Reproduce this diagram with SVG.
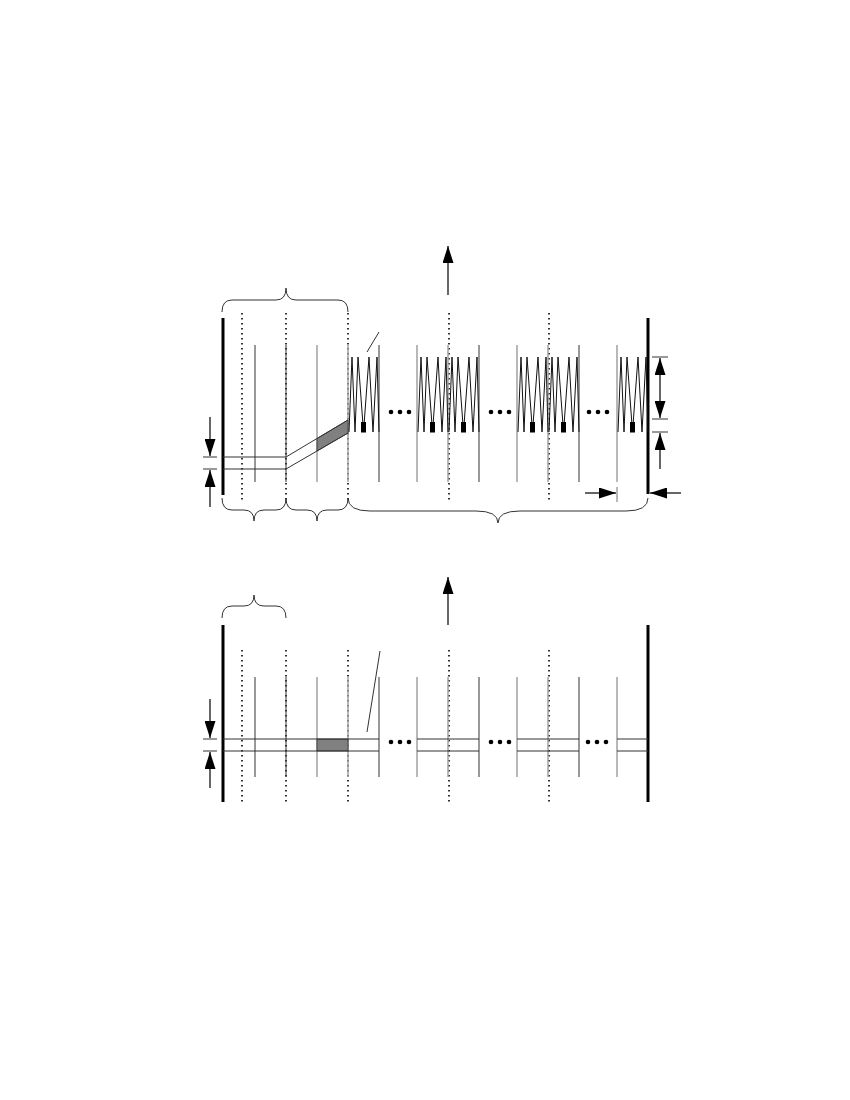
<svg xmlns="http://www.w3.org/2000/svg" width="850" height="1100" viewBox="0 0 850 1100">
<style>
.wall{stroke:#000;stroke-width:3;fill:none}
.dot{stroke:#000;stroke-width:1.6;stroke-dasharray:1.6 3.4;fill:none}
.dk{stroke:#333;stroke-width:1;fill:none}
.gr{stroke:#a0a0a0;stroke-width:1.5;fill:none}
.hz{stroke:#333;stroke-width:1;fill:none}
.zz{stroke:#111;stroke-width:1;fill:none}
.br{stroke:#333;stroke-width:1;fill:none}
.ar{stroke:#000;stroke-width:1.2;fill:none}
.tk{stroke:#333;stroke-width:1;fill:none}
.blk{fill:#000}
.shade{fill:#808080;stroke:#333;stroke-width:0.8}
</style>
<defs>
<marker id="ah" markerUnits="userSpaceOnUse" markerWidth="18" markerHeight="11" refX="17" refY="5.5" orient="auto">
<path d="M0,0 L17,5.5 L0,11 Z" fill="#000"/>
</marker>
<marker id="ahs" markerUnits="userSpaceOnUse" markerWidth="18" markerHeight="11" refX="1" refY="5.5" orient="auto">
<path d="M18,0 L1,5.5 L18,11 Z" fill="#000"/>
</marker>
</defs>

<g id="top-panel">
<g id="top-walls">
<line class="wall" x1="223" y1="318" x2="223" y2="495"/>
<line class="wall" x1="648" y1="318" x2="648" y2="494"/>
</g>
<g id="top-dotted">
<line class="dot" x1="242" y1="313" x2="242" y2="502"/>
<line class="dot" x1="286" y1="313" x2="286" y2="502"/>
<line class="dot" x1="348" y1="313" x2="348" y2="502"/>
<line class="dot" x1="449" y1="313" x2="449" y2="502"/>
<line class="dot" x1="549" y1="313" x2="549" y2="502"/>
</g>
<g id="top-verticals">
<line class="dk" x1="255" y1="345" x2="255" y2="482"/>
<line class="dk" x1="286" y1="345" x2="286" y2="482"/>
<line class="gr" x1="317" y1="345" x2="317" y2="482"/>
<line class="gr" x1="348" y1="345" x2="348" y2="482"/>
<line class="dk" x1="379" y1="345" x2="379" y2="482"/>
<line class="gr" x1="417" y1="345" x2="417" y2="482"/>
<line class="gr" x1="448" y1="345" x2="448" y2="482"/>
<line class="dk" x1="479" y1="345" x2="479" y2="482"/>
<line class="gr" x1="517" y1="345" x2="517" y2="482"/>
<line class="gr" x1="548" y1="345" x2="548" y2="482"/>
<line class="dk" x1="579" y1="345" x2="579" y2="482"/>
<line class="gr" x1="617" y1="345" x2="617" y2="482"/>
</g>
<g id="top-strand">
<polygon class="shade" points="317,438.5 348,420 348,433 317,451"/>
<polyline class="hz" points="223,457 286,457 348,420"/>
<polyline class="hz" points="223,469 286,469 348,433"/>
</g>
<g id="zigzags">
<polyline class="zz" points="349,432 352,357 355,432 358,357 363.5,432 369,357 373,432 377,357 379,432"/>
<polyline class="zz" points="418,432 421,357 424,432 427,357 432.5,432 438,357 442,432 446,357 448,432"/>
<polyline class="zz" points="449,432 452,357 455,432 458,357 463.5,432 469,357 473,432 477,357 479,432"/>
<polyline class="zz" points="518,432 521,357 524,432 527,357 532.5,432 538,357 542,432 546,357 548,432"/>
<polyline class="zz" points="549,432 552,357 555,432 558,357 563.5,432 569,357 573,432 577,357 579,432"/>
<polyline class="zz" points="618,432 621,357 624,432 627,357 632.5,432 638,357 642,432 646,357 648,432"/>
<rect class="blk" x="361" y="422" width="5" height="10.5"/>
<rect class="blk" x="430" y="422" width="5" height="10.5"/>
<rect class="blk" x="461" y="422" width="5" height="10.5"/>
<rect class="blk" x="530" y="422" width="5" height="10.5"/>
<rect class="blk" x="561" y="422" width="5" height="10.5"/>
<rect class="blk" x="630" y="422" width="5" height="10.5"/>
</g>
<g id="top-ellipsis">
<circle cx="391" cy="412" r="2.3"/><circle cx="400" cy="412" r="2.3"/><circle cx="409" cy="412" r="2.3"/>
<circle cx="491" cy="412" r="2.3"/><circle cx="500" cy="412" r="2.3"/><circle cx="509" cy="412" r="2.3"/>
<circle cx="589" cy="412" r="2.3"/><circle cx="598" cy="412" r="2.3"/><circle cx="607" cy="412" r="2.3"/>
</g>
<g id="top-pointer">
<line class="dk" x1="367" y1="352" x2="379" y2="332"/>
</g>
<g id="top-braces">
<path class="br" d="M222,312 Q222,300 232,300 L276,300 Q286,300 286,288 Q286,300 296,300 L338,300 Q348,300 348,312"/>
<path class="br" d="M222,498 Q222,510 232,510 L244,510 Q254,510 254,521 Q254,510 264,510 L276,510 Q286,510 286,498"/>
<path class="br" d="M286,498 Q286,510 296,510 L307,510 Q317,510 317,521 Q317,510 327,510 L338,510 Q348,510 348,498"/>
<path class="br" d="M348,498 Q348,511 370,511 L476,511 Q498,511 498,523 Q498,511 520,511 L626,511 Q648,511 648,498"/>
</g>
<g id="top-arrows">
<line class="ar" x1="448" y1="295" x2="448" y2="246" marker-end="url(#ah)"/>
<line class="ar" x1="210" y1="417" x2="210" y2="456" marker-end="url(#ah)"/>
<line class="ar" x1="210" y1="507" x2="210" y2="470" marker-end="url(#ah)"/>
<line class="tk" x1="203" y1="457" x2="217" y2="457"/>
<line class="tk" x1="203" y1="469" x2="217" y2="469"/>
<line class="ar" x1="660" y1="358" x2="660" y2="418" marker-start="url(#ahs)" marker-end="url(#ah)"/>
<line class="tk" x1="652" y1="357" x2="668" y2="357"/>
<line class="tk" x1="652" y1="419" x2="668" y2="419"/>
<line class="tk" x1="652" y1="432" x2="668" y2="432"/>
<line class="ar" x1="660" y1="469" x2="660" y2="433" marker-end="url(#ah)"/>
<line class="ar" x1="585" y1="493" x2="616" y2="493" marker-end="url(#ah)"/>
<line class="gr" x1="617" y1="487" x2="617" y2="502"/>
<line class="ar" x1="681" y1="493" x2="650" y2="493" marker-end="url(#ah)"/>
</g>
</g>

<g id="bottom-panel">
<g id="bottom-walls">
<line class="wall" x1="223" y1="625" x2="223" y2="802"/>
<line class="wall" x1="648" y1="625" x2="648" y2="802"/>
</g>
<g id="bottom-dotted">
<line class="dot" x1="242" y1="650" x2="242" y2="804"/>
<line class="dot" x1="286" y1="650" x2="286" y2="804"/>
<line class="dot" x1="348" y1="650" x2="348" y2="804"/>
<line class="dot" x1="449" y1="650" x2="449" y2="804"/>
<line class="dot" x1="549" y1="650" x2="549" y2="804"/>
</g>
<g id="bottom-verticals">
<line class="dk" x1="255" y1="677" x2="255" y2="777"/>
<line class="dk" x1="286" y1="677" x2="286" y2="777"/>
<line class="gr" x1="317" y1="677" x2="317" y2="777"/>
<line class="gr" x1="348" y1="677" x2="348" y2="777"/>
<line class="dk" x1="379" y1="677" x2="379" y2="777"/>
<line class="gr" x1="417" y1="677" x2="417" y2="777"/>
<line class="gr" x1="448" y1="677" x2="448" y2="777"/>
<line class="dk" x1="479" y1="677" x2="479" y2="777"/>
<line class="gr" x1="517" y1="677" x2="517" y2="777"/>
<line class="gr" x1="548" y1="677" x2="548" y2="777"/>
<line class="dk" x1="579" y1="677" x2="579" y2="777"/>
<line class="gr" x1="617" y1="677" x2="617" y2="777"/>
</g>
<g id="bottom-strands">
<rect class="shade" x="317" y="739" width="31" height="12"/>
<line class="hz" x1="223" y1="739" x2="379" y2="739"/>
<line class="hz" x1="223" y1="751" x2="379" y2="751"/>
<line class="hz" x1="417" y1="739" x2="479" y2="739"/>
<line class="hz" x1="417" y1="751" x2="479" y2="751"/>
<line class="hz" x1="517" y1="739" x2="579" y2="739"/>
<line class="hz" x1="517" y1="751" x2="579" y2="751"/>
<line class="hz" x1="617" y1="739" x2="648" y2="739"/>
<line class="hz" x1="617" y1="751" x2="648" y2="751"/>
</g>
<g id="bottom-ellipsis">
<circle cx="391" cy="742" r="2.3"/><circle cx="400" cy="742" r="2.3"/><circle cx="409" cy="742" r="2.3"/>
<circle cx="491" cy="742" r="2.3"/><circle cx="500" cy="742" r="2.3"/><circle cx="509" cy="742" r="2.3"/>
<circle cx="588" cy="742" r="2.3"/><circle cx="597" cy="742" r="2.3"/><circle cx="606" cy="742" r="2.3"/>
</g>
<g id="bottom-pointer">
<line class="dk" x1="367" y1="732" x2="380" y2="651"/>
</g>
<g id="bottom-braces">
<path class="br" d="M222,618 Q222,606 232,606 L244,606 Q254,606 254,595 Q254,606 264,606 L276,606 Q286,606 286,618"/>
</g>
<g id="bottom-arrows">
<line class="ar" x1="448" y1="625" x2="448" y2="577" marker-end="url(#ah)"/>
<line class="ar" x1="210" y1="699" x2="210" y2="738" marker-end="url(#ah)"/>
<line class="ar" x1="210" y1="788" x2="210" y2="752" marker-end="url(#ah)"/>
<line class="tk" x1="203" y1="739" x2="217" y2="739"/>
<line class="tk" x1="203" y1="751" x2="217" y2="751"/>
</g>
</g>
</svg>
